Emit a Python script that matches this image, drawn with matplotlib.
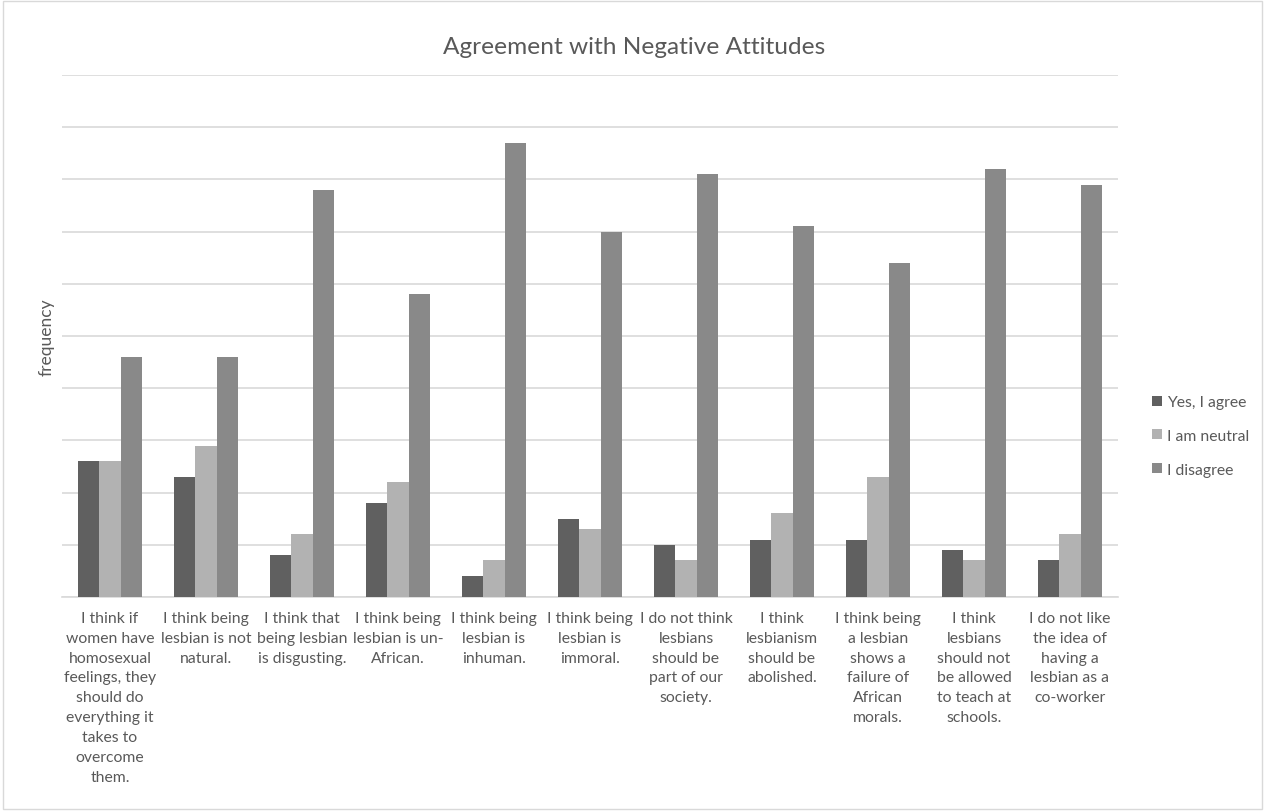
import matplotlib
matplotlib.use("Agg")
import matplotlib.pyplot as plt
import numpy as np
from matplotlib.patches import Rectangle

categories = [
    "I think if\nwomen have\nhomosexual\nfeelings, they\nshould do\neverything it\ntakes to\novercome\nthem.",
    "I think being\nlesbian is not\nnatural.",
    "I think that\nbeing lesbian\nis disgusting.",
    "I think being\nlesbian is un-\nAfrican.",
    "I think being\nlesbian is\ninhuman.",
    "I think being\nlesbian is\nimmoral.",
    "I do not think\nlesbians\nshould be\npart of our\nsociety.",
    "I think\nlesbianism\nshould be\nabolished.",
    "I think being\na lesbian\nshows a\nfailure of\nAfrican\nmorals.",
    "I think\nlesbians\nshould not\nbe allowed\nto teach at\nschools.",
    "I do not like\nthe idea of\nhaving a\nlesbian as a\nco-worker",
]
series_names = ["Yes, I agree", "I am neutral", "I disagree"]
agree = [2.6, 2.3, 0.8, 1.8, 0.4, 1.5, 1.0, 1.1, 1.1, 0.9, 0.7]
neutral = [2.6, 2.9, 1.2, 2.2, 0.7, 1.3, 0.7, 1.6, 2.3, 0.7, 1.2]
disagree = [4.6, 4.6, 7.8, 5.8, 8.7, 7.0, 8.1, 7.1, 6.4, 8.2, 7.9]
colors = ["#606060", "#b2b2b2", "#898989"]

plt.rcParams['font.family'] = ['Lato', 'DejaVu Sans']
txt = "#595959"

fig = plt.figure(figsize=(12.65, 8.12), dpi=100)
ax = fig.add_axes([62/1265, 1-598/812, (1118-62)/1265, (598-76)/812])

x = np.arange(len(categories))
w = 0.22
for i, (vals, name, c) in enumerate(zip([agree, neutral, disagree], series_names, colors)):
    ax.bar(x + (i-1)*w, vals, width=w, color=c, label=name, zorder=3)

ax.set_xlim(-0.5, len(categories)-0.5)
ax.set_ylim(0, 10)
ax.set_yticks(np.arange(0, 11, 1))
ax.set_yticklabels([])
ax.tick_params(axis='y', length=0)
ax.grid(axis='y', color="#d9d9d9", linewidth=1.2, zorder=0)
ax.set_xticks(x)
ax.set_xticklabels(categories, fontsize=11.3, color=txt, linespacing=1.53, va='top')
ax.tick_params(axis='x', length=0, pad=10)
for s in ['top', 'right', 'left']:
    ax.spines[s].set_visible(False)
ax.spines['bottom'].set_color("#d9d9d9")
ax.spines['bottom'].set_linewidth(1.2)

ax.set_ylabel("frequency", fontsize=12.5, color=txt, labelpad=2)
fig.text(634/1265, 1-47/812, "Agreement with Negative Attitudes",
         ha='center', va='center', fontsize=17.6, color=txt)

leg = fig.legend(loc='center left', bbox_to_anchor=(1138/1265, 1-437/812),
                 frameon=False, fontsize=11.3, handlelength=0.6, handleheight=0.6,
                 handletextpad=0.35, labelspacing=1.25)
for t in leg.get_texts():
    t.set_color(txt)

fig.patches.append(Rectangle((0.002, 0.002), 0.996, 0.996, transform=fig.transFigure,
                             fill=False, edgecolor="#d9d9d9", linewidth=1))

fig.savefig("out.png", dpi=100)
